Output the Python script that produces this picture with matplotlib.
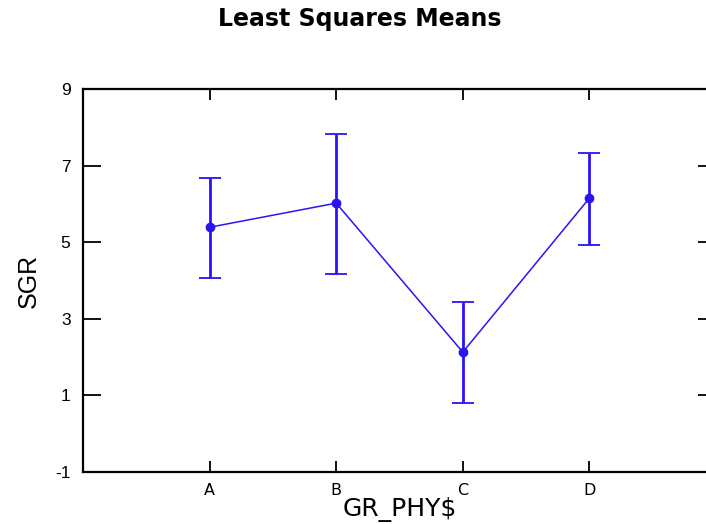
import matplotlib
matplotlib.use('Agg')
import matplotlib.pyplot as plt

# ------ Data ------
groups = ['A', 'B', 'C', 'D']
lsmean = [5.39, 6.02, 2.13, 6.15]
lower = [4.06, 4.18, 0.81, 4.92]
upper = [6.68, 7.83, 3.44, 7.32]
yticks = [-1, 1, 3, 5, 7, 9]

plt.rcParams['font.family'] = ['Liberation Sans', 'DejaVu Sans']
plt.rcParams['axes.unicode_minus'] = False

# ------ Figure ------
fig = plt.figure(figsize=(7.06, 5.24), dpi=100)
ax = fig.add_axes([83/706, 1-472/524, (716-83)/706, (472-89)/524])

xpos = list(range(1, len(groups) + 1))
err = [[m - lo for m, lo in zip(lsmean, lower)],
       [hi - m for m, hi in zip(lsmean, upper)]]
blue = '#2a14f5'
ax.plot(xpos, lsmean, color=blue, lw=1.1)
ax.errorbar(xpos, lsmean, yerr=err, fmt='o', color=blue, ms=6,
            elinewidth=2, capsize=8, capthick=1.3)

ax.set_xlim(0, 5)
ax.set_ylim(-1, 9)
ax.set_xticks(xpos)
ax.set_xticklabels(groups, family='DejaVu Sans', fontsize=11.5)
ax.set_yticks(yticks)

for s in ax.spines.values():
    s.set_linewidth(1.6)
ax.tick_params(axis='y', direction='in', length=13, width=1.3, labelsize=12.5,
               pad=9, right=True)
ax.tick_params(axis='x', direction='in', length=8, width=1.3,
               pad=8, top=True)

ax.set_xlabel('GR_PHY$', fontsize=18, family='DejaVu Sans', labelpad=-1)
ax.set_ylabel('SGR', fontsize=18, labelpad=10)
fig.text(360/706, 1-19/524, 'Least Squares Means', ha='center', va='center',
         fontsize=17, fontweight='bold', family='DejaVu Sans')

plt.savefig('out.png', dpi=100)
